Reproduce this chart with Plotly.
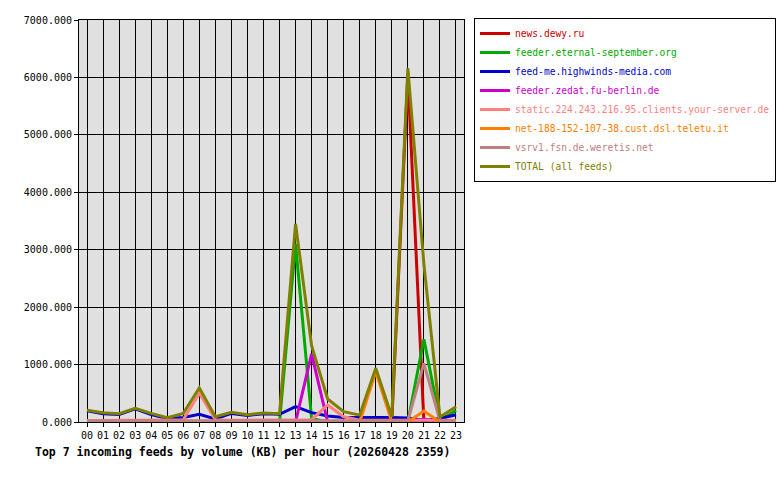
import plotly.graph_objects as go

hours = list(range(24))
hour_labels = [f"{h:02d}" for h in hours]

names = [
    "news.dewy.ru",
    "feeder.eternal-september.org",
    "feed-me.highwinds-media.com",
    "feeder.zedat.fu-berlin.de",
    "static.224.243.216.95.clients.your-server.de",
    "net-188-152-107-38.cust.dsl.teletu.it",
    "vsrv1.fsn.de.weretis.net",
    "TOTAL (all feeds)",
]
colors = ["#cc0000", "#00aa00", "#0000cc", "#cc00cc", "#ff8080", "#ff8000", "#c08080", "#808000"]

news_dewy = [0, 0, 0, 0, 0, 0, 0, 0, 0, 0, 0, 0, 0, 0, 0, 0, 0, 0, 0, 0, 6050, 0, 0, 0]
eternal_sep = [0, 0, 0, 0, 0, 0, 0, 0, 0, 0, 0, 0, 0, 3100, 60, 0, 0, 0, 0, 0, 0, 1440, 30, 200]
highwinds = [195, 145, 130, 230, 130, 60, 80, 135, 55, 150, 115, 145, 135, 267, 163, 105, 80, 75, 80, 80, 70, 20, 60, 125]
zedat = [0, 0, 0, 0, 0, 0, 0, 0, 0, 0, 0, 0, 0, 0, 1185, 0, 0, 0, 0, 0, 0, 50, 0, 0]
static_ys = [20, 30, 30, 30, 30, 30, 40, 500, 40, 30, 30, 30, 30, 30, 40, 296, 90, 30, 30, 30, 30, 30, 30, 30]
teletu = [0, 0, 0, 0, 0, 0, 0, 0, 0, 0, 0, 0, 0, 0, 0, 0, 0, 0, 880, 0, 0, 190, 0, 0]
weretis = [20, 20, 20, 20, 20, 20, 20, 20, 20, 20, 20, 20, 20, 20, 20, 20, 20, 20, 20, 20, 20, 1020, 20, 20]
total = [204, 163, 145, 238, 151, 76, 151, 592, 93, 169, 128, 157, 145, 3450, 1330, 400, 180, 120, 935, 90, 6160, 2750, 87, 267]

series = [news_dewy, eternal_sep, highwinds, zedat, static_ys, teletu, weretis, total]

fig = go.Figure()
for name, color, vals in zip(names, colors, series):
    fig.add_trace(go.Scatter(
        x=hours, y=vals, mode="lines",
        name=f'<span style="color:{color}">{name}</span>',
        line=dict(color=color, width=3),
    ))

mono = "DejaVu Sans Mono"
fig.update_layout(
    width=780, height=480,
    margin=dict(l=79, r=316, t=20, b=58, autoexpand=False),
    paper_bgcolor="white",
    plot_bgcolor="#e0e0e0",
    font=dict(family=mono, size=10, color="black"),
    showlegend=True,
    legend=dict(
        x=(474 - 79) / 385, y=(422 - 18) / 402, xanchor="left", yanchor="top",
        bgcolor="white", bordercolor="black", borderwidth=1,
        font=dict(family=mono, size=9.6),
        tracegroupgap=0, itemwidth=30,
    ),
    xaxis=dict(
        range=[-0.5, 23.5], tickmode="array", tickvals=hours, ticktext=hour_labels,
        showgrid=True, gridcolor="black", gridwidth=1,
        showline=True, linecolor="black", linewidth=1, mirror=True,
        ticks="outside", ticklen=4, tickcolor="black", zeroline=False,
    ),
    yaxis=dict(
        range=[0, 7000], dtick=1000, tickformat=".3f",
        showgrid=True, gridcolor="black", gridwidth=1,
        showline=True, linecolor="black", linewidth=1, mirror=True,
        ticks="outside", ticklen=4, tickcolor="black", zeroline=False,
    ),
    annotations=[dict(
        text="<b>Top 7 incoming feeds by volume (KB) per hour (20260428 2359)</b>",
        x=(242 - 79) / 385, y=(422 - 452) / 402, xref="paper", yref="paper",
        xanchor="center", yanchor="middle", showarrow=False,
        font=dict(family=mono, size=11.5, color="black"),
    )],
)

fig.write_html("out.html")
